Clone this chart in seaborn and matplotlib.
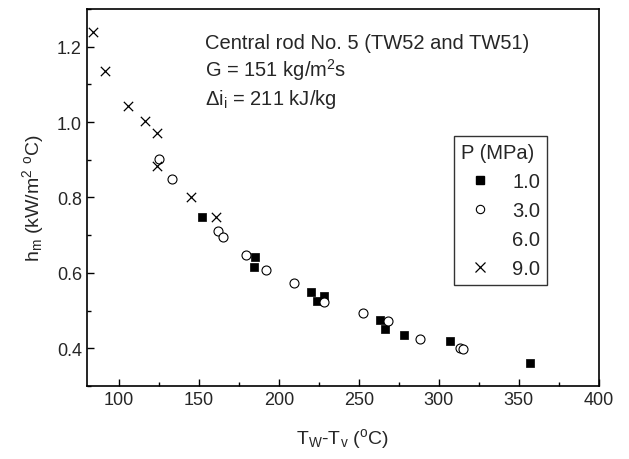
import matplotlib
matplotlib.use("Agg")
import matplotlib.pyplot as plt
import seaborn as sns
import pandas as pd
from matplotlib.lines import Line2D
from matplotlib.ticker import MultipleLocator

# Data
p10_x = [151.9, 185.2, 184.8, 220.0, 223.8, 228.3, 263.3, 266.4, 278.0, 307.0, 357.3]
p10_y = [0.748, 0.641, 0.615, 0.550, 0.526, 0.538, 0.476, 0.452, 0.435, 0.420, 0.362]
p30_x = [125.2, 133.1, 162.3, 165.0, 179.6, 191.9, 209.6, 228.3, 252.9, 268.5, 288.0, 313.0, 315.0]
p30_y = [0.902, 0.848, 0.711, 0.696, 0.647, 0.607, 0.572, 0.522, 0.493, 0.473, 0.425, 0.400, 0.398]
p90_x = [83.8, 91.4, 106.0, 116.4, 124.1, 124.1, 145.0, 160.6]
p90_y = [1.238, 1.136, 1.043, 1.002, 0.971, 0.883, 0.800, 0.747]
legend_labels = ["1.0", "3.0", "6.0", "9.0"]

sns.set_style("ticks")
plt.rcParams["font.family"] = ["Liberation Sans", "DejaVu Sans"]
plt.rcParams["mathtext.default"] = "regular"

fig = plt.figure(figsize=(6.29, 4.60), dpi=100)
ax = fig.add_axes([0.138, 0.159, 0.814, 0.819])

d10 = pd.DataFrame({"x": p10_x, "y": p10_y})
d30 = pd.DataFrame({"x": p30_x, "y": p30_y})
d90 = pd.DataFrame({"x": p90_x, "y": p90_y})

sns.scatterplot(data=d10, x="x", y="y", marker="s", s=40, color="black",
                edgecolor="black", linewidth=0.5, ax=ax, legend=False)
sns.scatterplot(data=d30, x="x", y="y", marker="o", s=42, facecolor="white",
                edgecolor="black", linewidth=0.8, ax=ax, legend=False)
sns.scatterplot(data=d90, x="x", y="y", marker="x", s=45, color="black",
                linewidth=0.9, ax=ax, legend=False)

ax.set_xlim(80, 400)
ax.set_ylim(0.30, 1.30)
ax.xaxis.set_minor_locator(MultipleLocator(25))
ax.yaxis.set_minor_locator(MultipleLocator(0.1))
ax.set_xticks([100, 150, 200, 250, 300, 350, 400])
ax.set_yticks([0.4, 0.6, 0.8, 1.0, 1.2])
ax.set_yticklabels(["0.4", "0.6", "0.8", "1.0", "1.2"])
ax.tick_params(which="major", direction="in", length=5, width=1, labelsize=13, color="black")
ax.tick_params(which="minor", direction="in", length=3, width=1, color="black")
for sp in ax.spines.values():
    sp.set_visible(True)
    sp.set_color("black")
    sp.set_linewidth(1.2)

ax.set_xlabel("T$_W$-T$_v$ ($^o$C)", fontsize=14, labelpad=13)
ax.set_ylabel("h$_m$ (kW/m$^2$ $^o$C)", fontsize=14, labelpad=8)

txt_size = 14.5
ax.text(0.231, 0.912, "Central rod No. 5 (TW52 and TW51)", transform=ax.transAxes,
        fontsize=txt_size, va="center", ha="left")
ax.text(0.231, 0.840, "G = 151 kg/m$^2$s", transform=ax.transAxes,
        fontsize=txt_size, va="center", ha="left")
ax.text(0.231, 0.763, "$\\Delta$i$_i$ = 211 kJ/kg", transform=ax.transAxes,
        fontsize=txt_size, va="center", ha="left")

handles = [
    Line2D([], [], linestyle="none", marker="s", markersize=5.5, color="black"),
    Line2D([], [], linestyle="none", marker="o", markersize=6, markerfacecolor="white",
           markeredgecolor="black", markeredgewidth=0.8),
    Line2D([], [], linestyle="none", marker="None", color="black"),
    Line2D([], [], linestyle="none", marker="x", markersize=7, color="black", markeredgewidth=0.9),
]
leg = ax.legend(handles, legend_labels, title="P (MPa)", loc="lower right",
                bbox_to_anchor=(547 / 629, 1 - 286 / 460), bbox_transform=fig.transFigure,
                fontsize=14.5, title_fontsize=14.5, frameon=True, fancybox=False,
                edgecolor="black", handletextpad=0.68, labelspacing=0.5,
                borderpad=0.34, handlelength=1.87, borderaxespad=0)
leg.get_frame().set_linewidth(1.0)
leg._legend_box.align = "left"

fig.savefig("out.png", dpi=100)
